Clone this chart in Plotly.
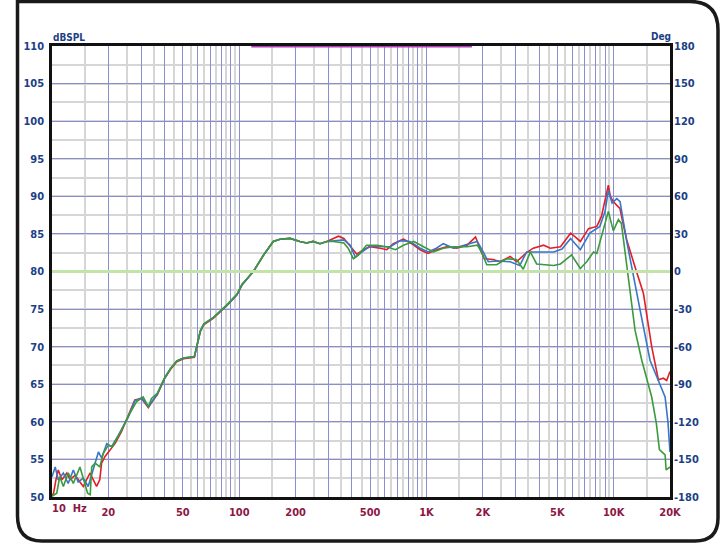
import plotly.graph_objects as go

# ---------------- data ----------------
red_f = [10.0, 10.2, 10.5, 10.8, 11.3, 12.0, 12.5, 13.3, 14.1, 14.7, 15.3, 16.0, 16.6, 17.3, 18.0,
         18.4, 19.2, 20.4, 21.7, 23.5, 25.5, 27.7, 30.1, 32.7, 34.7, 36.5, 40.0, 43.0, 46.4, 50.4,
         57.6, 59.5, 62.0, 64.6, 72.9, 86, 97.3, 103.4, 119, 135, 152, 165, 187, 211, 229, 248,
         270, 294, 318, 339, 362, 392, 425, 461, 500, 566, 614, 666, 754, 835, 925, 1020, 1130,
         1280, 1450, 1650, 1830, 1940, 2040, 2270, 2470, 2800, 3030, 3430, 3720, 4230, 4590,
         5200, 5600, 5890, 6300, 6640, 7340, 8130, 8600, 9000, 9370, 9600, 9960, 10400, 10800,
         11200, 11750, 13010, 14420, 15970, 17330, 18420, 19200, 20000]
red_db = [50.2, 50.5, 52.3, 53.6, 52.3, 53.2, 52.3, 52.9, 52.0, 51.4, 52.3, 53.2, 52.3, 51.4, 52.3,
          54.5, 55.4, 56.2, 57.1, 58.7, 60.7, 62.9, 63.1, 61.9, 62.9, 63.6, 65.8, 67.0, 68.0, 68.4,
          68.6, 70.0, 72.0, 72.9, 73.8, 75.5, 76.9, 78.2, 80.0, 82.2, 84.0, 84.3, 84.4, 84.0, 83.8, 84.0,
          83.7, 84.0, 84.4, 84.7, 84.4, 83.3, 82.3, 82.9, 83.3, 83.1, 82.9, 83.7, 84.3, 83.7, 82.9, 82.4, 82.9,
          83.3, 83.1, 83.5, 84.6, 82.9, 81.7, 81.6, 81.3, 82.0, 81.3, 82.5, 83.1, 83.5, 83.1,
          83.3, 84.3, 85.1, 84.5, 84.0, 85.7, 86.0, 87.3, 89.5, 91.5, 90.0, 89.3, 88.8, 88.4,
          86.5, 84.2, 80.6, 77.1, 70.0, 65.6, 65.8, 65.5, 66.7]

blue_f = [10.0, 10.4, 10.8, 11.5, 12.2, 13.0, 13.8, 14.7, 15.6, 16.6, 17.7, 18.4, 19.6, 20.8, 22.6,
          25.5, 27.7, 30.1, 32.7, 34.7, 36.5, 40.0, 43.0, 46.4, 50.4, 57.6, 59.5, 62.0, 64.6, 72.9,
          86, 97.3, 103.4, 119, 135, 152, 165, 187, 211, 229, 248, 270, 294, 318, 362, 392, 417,
          443, 500, 590, 640, 725, 817, 925, 1020, 1130, 1230, 1400, 1590, 1870, 2010, 2140, 2370,
          2800, 3150, 3430, 3960, 4780, 5300, 5890, 6640, 7460, 8440, 9000, 9370, 9800, 10400,
          10820, 11750, 12740, 13840, 15640, 17690, 18830, 19500, 20000]
blue_db = [52.7, 54.0, 52.3, 53.2, 51.8, 53.6, 52.0, 52.5, 51.4, 53.8, 56.0, 55.2, 57.1, 56.7, 58.2,
           60.6, 62.8, 63.2, 62.0, 62.9, 63.7, 65.8, 67.1, 68.1, 68.5, 68.7, 70.1, 72.1, 73.0, 73.9,
           75.5, 76.9, 78.2, 80.0, 82.2, 84.0, 84.3, 84.4, 84.0, 83.8, 84.0, 83.7, 84.0, 84.1, 84.2, 83.5, 81.9,
           82.4, 83.4, 83.3, 83.3, 84.1, 84.0, 83.1, 82.6, 83.1, 83.7, 83.1, 83.5, 84.0, 82.6, 81.3, 81.4,
           81.3, 80.8, 82.6, 82.6, 82.6, 83.0, 84.4, 82.9, 85.1, 86.0, 88.0, 90.8, 89.1, 89.7,
           89.3, 84.0, 79.3, 74.9, 68.2, 65.1, 63.3, 60.0, 56.0]

green_f = [10.0, 10.6, 11.0, 11.5, 12.2, 13.0, 14.1, 14.7, 15.5, 16.0, 16.3, 17.0, 18.0, 18.8, 20.0,
           21.0, 23.5, 26.0, 28.3, 30.7, 32.7, 34.0, 36.5, 40.0, 43.0, 46.4, 50.4, 57.6, 59.5, 62.0,
           64.6, 72.9, 86, 97.3, 103.4, 119, 135, 152, 165, 187, 211, 229, 248, 270, 294, 318, 362,
           382, 407, 434, 478, 544, 614, 683, 754, 856, 965, 1090, 1230, 1400, 1650, 1870, 1970,
           2100, 2370, 2680, 3030, 3290, 3590, 3880, 4780, 5200, 5960, 6640, 7180, 7810, 8130,
           8700, 9370, 9960, 10600, 11000, 12000, 13010, 14130, 15970, 16910, 17560, 18830, 19070,
           20000]
green_db = [50.1, 50.5, 52.7, 51.4, 53.2, 51.8, 54.0, 52.3, 50.5, 50.3, 54.0, 54.5, 54.0, 55.8, 56.9,
            56.7, 58.9, 61.1, 62.7, 63.3, 62.0, 63.1, 63.8, 65.9, 67.1, 68.1, 68.5, 68.7, 70.1, 72.1,
            73.0, 73.9, 75.6, 77.0, 78.3, 80.0, 82.2, 84.0, 84.3, 84.4, 84.0, 83.8, 84.0, 83.7, 84.0, 84.0, 83.8,
            83.1, 81.7, 82.2, 83.5, 83.5, 83.3, 82.9, 83.5, 84.0, 83.3, 82.6, 83.1, 83.3, 83.3, 83.5, 82.6,
            80.9, 80.9, 81.7, 81.6, 80.3, 82.6, 81.0, 80.8, 81.0, 82.2, 80.4, 81.3, 82.6, 82.4,
            85.0, 88.0, 85.4, 86.9, 86.4, 79.3, 72.2, 68.2, 63.3, 59.8, 56.3, 55.6, 53.6,
            54.0]

phase_f = [116, 1750]
phase_deg = [180, 180]

zero_f = [10, 20000]
zero_deg = [0, 0]

major_f = [10, 20, 30, 40, 50, 60, 70, 80, 90, 100, 200, 300, 400, 500, 600, 700, 800, 900,
           1000, 2000, 3000, 4000, 5000, 6000, 7000, 8000, 9000, 10000, 20000]
major_lbl = {20: "20", 50: "50", 100: "100", 200: "200", 500: "500", 1000: "1K",
             2000: "2K", 5000: "5K", 10000: "10K", 20000: "20K"}
minor_f = [15, 25, 35, 45, 55, 65, 75, 85, 95, 150, 250, 350, 450, 550, 650, 750, 850, 950,
           1500, 2500, 3500, 4500, 5500, 6500, 7500, 8500, 9500, 15000]
db_ticks = list(range(50, 111, 5))
deg_ticks = list(range(-180, 181, 30))
deg_lbl = [str(v) for v in deg_ticks]

# ---------------- figure ----------------
FONT = "Liberation Sans Narrow, Arial Narrow, DejaVu Sans Condensed, sans-serif"
NAVY = "#1d3f86"
MAROON = "#8c1744"

fig = go.Figure()
# zero-degree reference line (aligned with 80 dB)
fig.add_trace(go.Scatter(x=zero_f, y=zero_deg, yaxis="y2", mode="lines",
                         line=dict(color="#c2e4ab", width=3), showlegend=False, hoverinfo="skip"))
fig.add_trace(go.Scatter(x=phase_f, y=phase_deg, yaxis="y2", mode="lines",
                         line=dict(color="#b03cb8", width=3), showlegend=False, hoverinfo="skip"))
fig.add_trace(go.Scatter(x=red_f, y=red_db, mode="lines", line=dict(color="#e41e26", width=1.6),
                         showlegend=False))
fig.add_trace(go.Scatter(x=blue_f, y=blue_db, mode="lines", line=dict(color="#3a76c6", width=1.6),
                         showlegend=False))
fig.add_trace(go.Scatter(x=green_f, y=green_db, mode="lines", line=dict(color="#3a9b3c", width=1.6),
                         showlegend=False))

# outer rounded frame (paper coords)
def px(xp):
    return (xp - 52) / 618.0

def py(yp):
    return (497 - yp) / 451.0

path = (f"M {px(17.5)},{py(1.5)} L {px(690)},{py(1.5)} Q {px(718)},{py(1.5)} {px(718)},{py(30)} "
        f"L {px(718)},{py(518)} Q {px(718)},{py(541)} {px(695)},{py(541)} "
        f"L {px(42)},{py(541)} Q {px(17.5)},{py(541)} {px(17.5)},{py(516)} Z")
fig.add_shape(type="path", xref="paper", yref="paper", path=path,
              line=dict(color="#1a1a1a", width=3.5), layer="above")

fig.add_annotation(xref="paper", yref="paper", x=px(50), y=py(508), text="10  Hz", showarrow=False,
                   xanchor="left", yanchor="middle",
                   font=dict(family=FONT, size=11, color=MAROON, weight="bold"))
fig.add_annotation(xref="paper", yref="paper", x=px(51), y=py(38), text="dBSPL", showarrow=False,
                   xanchor="left", yanchor="middle",
                   font=dict(family=FONT, size=10, color=NAVY, weight="bold"))
fig.add_annotation(xref="paper", yref="paper", x=px(673), y=py(37), text="Deg", showarrow=False,
                   xanchor="right", yanchor="middle",
                   font=dict(family=FONT, size=10, color=NAVY, weight="bold"))

fig.update_layout(
    width=721, height=544,
    margin=dict(l=52, r=51, t=46, b=47),
    paper_bgcolor="white", plot_bgcolor="white",
    showlegend=False,
    xaxis=dict(type="log", range=[1, 4.30103], tickmode="array", tickvals=major_f,
               ticktext=[major_lbl.get(v, "") for v in major_f],
               showgrid=True, gridcolor="#8a8ed0", gridwidth=1,
               minor=dict(tickmode="array", tickvals=minor_f, showgrid=True,
                          gridcolor="#d6d6d6", gridwidth=1.5),
               ticks="", ticklabelstandoff=3,
               tickfont=dict(family=FONT, size=11, color=MAROON, weight="bold"),
               showline=True, linecolor="#111111", linewidth=2.5, mirror=True,
               zeroline=False, layer="below traces"),
    yaxis=dict(range=[50, 110], tickmode="array", tickvals=db_ticks,
               showgrid=True, gridcolor="#8a8ed0", gridwidth=1,
               minor=dict(dtick=2.5, tick0=50, showgrid=True, gridcolor="#d6d6d6", gridwidth=1.5),
               ticks="", ticklabelstandoff=3,
               tickfont=dict(family=FONT, size=11, color=NAVY, weight="bold"),
               showline=True, linecolor="#111111", linewidth=2.5, mirror=True,
               zeroline=False, layer="below traces"),
    yaxis2=dict(range=[-180, 180], overlaying="y", side="right", tickmode="array",
                tickvals=deg_ticks, ticktext=deg_lbl, showgrid=False, zeroline=False, ticks="",
                ticklabelstandoff=3,
                tickfont=dict(family=FONT, size=11, color=NAVY, weight="bold")),
)

fig.write_html("out.html", config={"displayModeBar": False},
               post_script="document.body.style.margin='0';document.body.style.overflow='hidden';")
